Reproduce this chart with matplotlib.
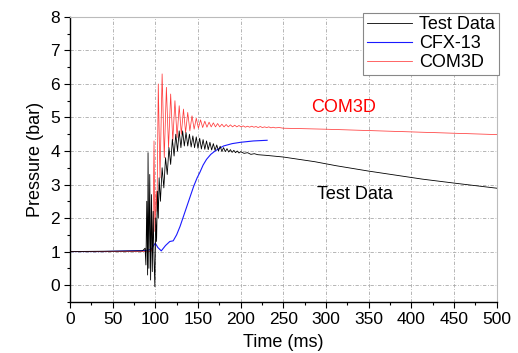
import matplotlib.pyplot as plt

plt.rcParams['font.family'] = ['Liberation Sans', 'DejaVu Sans']

# Test Data: measured pressure (ms, bar)
test_t = [0, 85, 88, 89, 90, 91, 91.5, 92.5, 93.5, 94.5, 95.5, 96.5, 97.5, 98.5,
          99.5, 100.5, 101.5, 102.5, 103.5, 104.5, 106, 108, 110, 112, 114, 116,
          118, 120, 122, 124, 126, 128, 130, 132, 134, 136, 138, 140, 142, 144,
          146, 148, 150, 152, 154, 156, 158, 160, 162, 164, 166, 168, 170, 172,
          174, 176, 178, 180, 182, 184, 186, 188, 190, 192, 194, 196, 198, 200,
          204, 208, 212, 216, 220, 230, 250, 287, 312, 350, 413, 454, 500]
test_p = [1.0, 1.02, 1.1, 0.6, 2.5, 0.3, 3.95, 0.5, 3.3, 0.15, 2.7, 0.4, 2.2, 0.8,
          -0.05, 2.0, 1.3, 2.8, 2.0, 3.2, 2.5, 3.5, 2.9, 3.8, 3.3, 4.1,
          3.6, 4.35, 3.85, 4.5, 4.0, 4.6, 4.1, 4.6, 4.15, 4.55, 4.15, 4.5, 4.12, 4.45,
          4.1, 4.42, 4.08, 4.38, 4.06, 4.34, 4.05, 4.3, 4.04, 4.26, 4.03, 4.22, 4.02, 4.18,
          4.0, 4.14, 3.99, 4.1, 3.98, 4.07, 3.97, 4.04, 3.96, 4.02, 3.95, 4.0, 3.94, 3.98,
          3.93, 3.95, 3.9, 3.92, 3.89, 3.87, 3.82, 3.68, 3.56, 3.4, 3.16, 3.03, 2.89]

# CFX-13 simulation
cfx_t = [0, 40, 70, 88, 95, 100, 103, 107, 112, 117, 121, 125, 129, 133, 137,
         141, 145, 149, 152, 156, 160, 165, 170, 175, 180, 190, 200, 215, 231]
cfx_p = [1.0, 1.0, 1.02, 1.03, 1.06, 1.25, 1.12, 1.02, 1.18, 1.3, 1.32, 1.5, 1.75,
         2.05, 2.35, 2.65, 2.95, 3.2, 3.35, 3.58, 3.75, 3.9, 4.0, 4.08, 4.15, 4.22,
         4.26, 4.3, 4.32]

# COM3D simulation
com_t = [0, 95, 96.5, 97.5, 98.5, 99.5, 101, 102, 103.5, 105.5, 108, 110.5, 113,
         115.5, 118, 120.5, 123, 125.5, 128, 130.5, 133, 135.5, 138, 140.5, 143,
         145.5, 148, 150.5, 153, 155.5, 158, 160.5, 163, 165.5, 168, 170.5, 173,
         175.5, 178, 180.5, 183, 185.5, 188, 190.5, 193, 195.5, 198, 200.5, 203,
         205.5, 208, 210.5, 213, 215.5, 218, 220.5, 223, 225.5, 228, 230.5, 233,
         235.5, 238, 240.5, 245, 250, 300, 400, 500]
com_p = [1.0, 1.0, 1.1, 2.0, 4.3, 1.6, 2.8, 2.2, 6.0, 3.2, 6.3, 3.8, 5.9,
         4.1, 5.7, 4.3, 5.5, 4.4, 5.35, 4.5, 5.25, 4.55, 5.15, 4.6, 5.05,
         4.65, 4.98, 4.68, 4.93, 4.7, 4.89, 4.71, 4.86, 4.72, 4.84, 4.72, 4.82,
         4.72, 4.8, 4.72, 4.79, 4.72, 4.78, 4.72, 4.77, 4.72, 4.76, 4.72, 4.75,
         4.71, 4.74, 4.71, 4.74, 4.71, 4.73, 4.7, 4.73, 4.7, 4.72, 4.7, 4.72,
         4.69, 4.71, 4.69, 4.7, 4.68, 4.65, 4.57, 4.49]

fig = plt.figure(figsize=(5.18, 3.53), dpi=100)
ax = fig.add_axes([0.135, 0.145, 0.824, 0.807])

ax.plot(test_t, test_p, color='black', lw=0.6, label='Test Data', zorder=3)
ax.plot(cfx_t, cfx_p, color='#1a1aff', lw=0.8, label='CFX-13', zorder=2)
ax.plot(com_t, com_p, color='#ff3b3b', lw=0.55, label='COM3D', zorder=2)

ax.set_xlim(0, 500)
ax.set_ylim(-0.5, 8)
ax.set_xticks(range(0, 501, 50))
ax.set_xticks(range(25, 500, 50), minor=True)
ax.set_yticks(range(0, 9))
ax.set_yticks([i + 0.5 for i in range(-1, 8)], minor=True)

ax.grid(True, which='major', color='#aaaaaa', lw=0.6, linestyle=(0, (4, 2, 1, 2)))
ax.tick_params(which='major', direction='out', length=4, width=0.8, labelsize=12.5, pad=3)
ax.tick_params(which='minor', direction='out', length=2.5, width=0.8)
for side in ('top', 'right'):
    ax.spines[side].set_color('#bbbbbb')
    ax.spines[side].set_linewidth(0.8)
for side in ('left', 'bottom'):
    ax.spines[side].set_linewidth(1.0)

ax.set_xlabel('Time (ms)', fontsize=13, labelpad=5.5)
ax.set_ylabel('Pressure (bar)', fontsize=13, labelpad=5)

ax.text(320, 5.3, 'COM3D', color='red', fontsize=13, ha='center', va='center')
ax.text(334, 2.7, 'Test Data', color='black', fontsize=13, ha='center', va='center')

leg = ax.legend(loc='upper right', bbox_to_anchor=(1.005, 1.015), fontsize=13,
                fancybox=False, edgecolor='#888888', framealpha=1,
                handlelength=2.5, borderaxespad=0, borderpad=0.2,
                labelspacing=0.1, handletextpad=0.4)
leg.get_frame().set_linewidth(0.8)

fig.savefig('out.png', dpi=100)
